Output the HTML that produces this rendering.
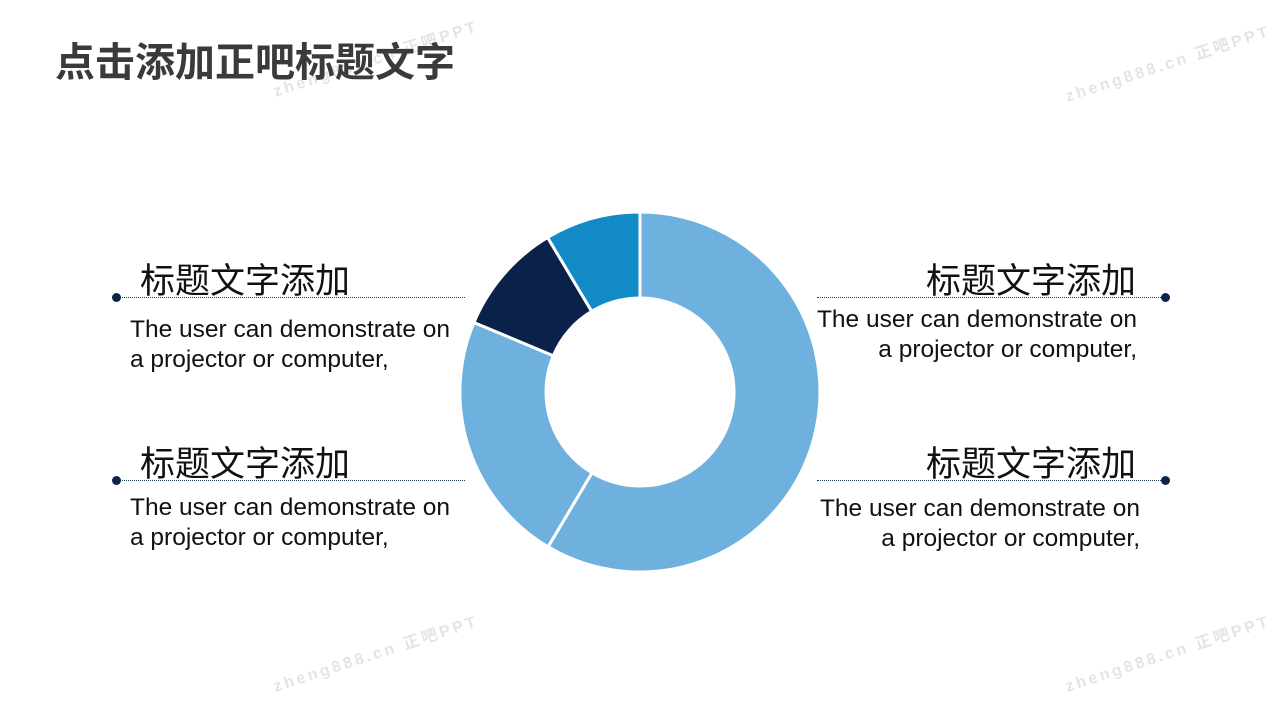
<!DOCTYPE html>
<html><head><meta charset="utf-8"><style>
body{margin:0;width:1280px;height:720px;background:#fff;position:relative;overflow:hidden;font-family:"Liberation Sans","Noto Sans CJK SC",sans-serif;}
.t{position:absolute;white-space:nowrap;}
.h{font-size:35px;color:#111;line-height:1;}
.p{font-size:24.5px;color:#111;line-height:30px;}
.ln{position:absolute;border-top:1px dotted #1d3557;height:0;}
.dot{position:absolute;width:9px;height:9px;border-radius:50%;background:#0b2447;}
.wm{position:absolute;color:#e4e4e4;font-size:16px;font-weight:bold;letter-spacing:3px;transform:rotate(-18deg);white-space:nowrap;}
</style></head><body>
<div class="wm" style="left:268px;top:45px">zheng888.cn 正吧PPT</div>
<div class="wm" style="left:1060px;top:50px">zheng888.cn 正吧PPT</div>
<div class="wm" style="left:268px;top:640px">zheng888.cn 正吧PPT</div>
<div class="wm" style="left:1060px;top:640px">zheng888.cn 正吧PPT</div>
<div class="t" style="left:55px;top:30px;font-size:40px;font-weight:bold;color:#3a3a3a;">点击添加正吧标题文字</div>

<svg style="position:absolute;left:0;top:0" width="1280" height="720">
<g stroke="#fff" stroke-width="3" stroke-linejoin="round">
<path fill="#6EB1DE" d="M640,212 A180,180 0 1 1 548.1,546.8 L592,472.8 A94,94 0 1 0 640,298 Z"/>
<path fill="#6EB1DE" d="M548.1,546.8 A180,180 0 0 1 473.9,322.5 L553.3,355.7 A94,94 0 0 0 592,472.8 Z"/>
<path fill="#0A2249" d="M473.9,322.5 A180,180 0 0 1 547.6,237.5 L591.7,311.3 A94,94 0 0 0 553.3,355.7 Z"/>
<path fill="#118AC6" d="M547.6,237.5 A180,180 0 0 1 640,212 L640,298 A94,94 0 0 0 591.7,311.3 Z"/>
</g></svg>

<div class="t h" style="left:140px;top:264px">标题文字添加</div>
<div class="ln" style="left:117px;top:297px;width:348px"></div>
<div class="dot" style="left:112px;top:293px"></div>
<div class="t p" style="left:130px;top:315px">The user can demonstrate on<br>a projector or computer,</div>

<div class="t h" style="left:140px;top:447px">标题文字添加</div>
<div class="ln" style="left:117px;top:480px;width:348px"></div>
<div class="dot" style="left:112px;top:476px"></div>
<div class="t p" style="left:130px;top:493px">The user can demonstrate on<br>a projector or computer,</div>

<div class="t h" style="right:144px;top:264px">标题文字添加</div>
<div class="ln" style="left:817px;top:297px;width:348px"></div>
<div class="dot" style="left:1161px;top:293px"></div>
<div class="t p" style="right:143px;top:305px;text-align:right">The user can demonstrate on<br>a projector or computer,</div>

<div class="t h" style="right:144px;top:447px">标题文字添加</div>
<div class="ln" style="left:817px;top:480px;width:348px"></div>
<div class="dot" style="left:1161px;top:476px"></div>
<div class="t p" style="right:140px;top:494px;text-align:right">The user can demonstrate on<br>a projector or computer,</div>
</body></html>
